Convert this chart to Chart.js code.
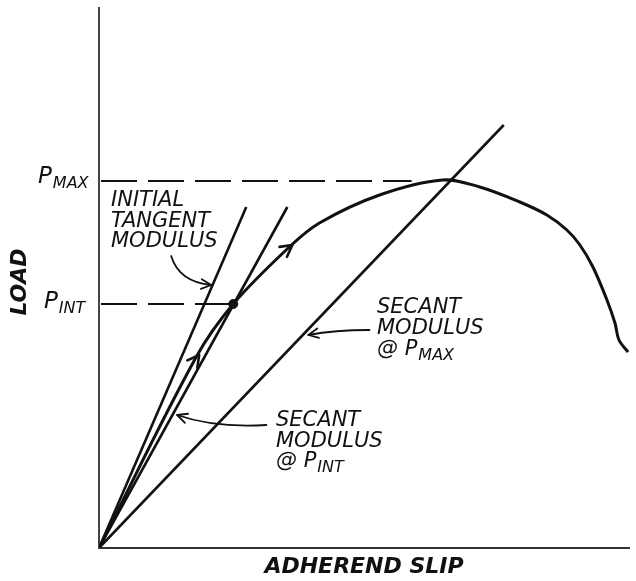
<!DOCTYPE html>
<html>
<head>
<meta charset="utf-8">
<script src="https://cdn.jsdelivr.net/npm/chart.js@4"></script>
<style>
  html, body { margin: 0; padding: 0; background: #fff; }
  #wrap { width: 636px; height: 581px; }
</style>
</head>
<body>
<div id="wrap"><canvas id="chart" width="636" height="581"></canvas></div>
<script>
'use strict';

// load / slip curve (schematic units)
const slip = [0, 97, 134, 190, 220, 280, 343, 380, 420, 447, 467, 480, 493, 507, 515, 519, 528];
const load = [0, 191, 244, 301, 325, 353, 368, 361, 346, 333, 318, 303, 281, 248, 225, 208, 196];

// key loads
const pMax = 367;
const pInt = 244;
const pIntSlip = 134;

// straight moduli lines (end points)
const tangentEnd = [147, 341];
const secantIntEnd = [188, 341];
const secantMaxEnd = [404, 423];

const ink = '#111';
const font = "'DejaVu Sans', Verdana, sans-serif";

const curvePts = slip.map((x, i) => ({x: x, y: load[i]}));
const line = (a, b) => [{x: a[0], y: a[1]}, {x: b[0], y: b[1]}];

/////////////////////////
//// notes & arrows /////

// quadratic pointer arrows, in data units: start, control, end
const pointers = [
  [[72, 292], [80, 266], [112, 263]],
  [[270, 218], [235, 218], [209, 213]],
  [[167, 123], [115, 120], [78, 133]]
];
// arrowheads on the curve: tip, point behind it
const curveArrows = [
  [[100, 193], [92.5, 183]],
  [[193, 303], [183, 295.5]]
];

function chevron(ctx, tx, ty, ang, len, spread) {
  ctx.beginPath();
  ctx.moveTo(tx - len * Math.cos(ang - spread), ty - len * Math.sin(ang - spread));
  ctx.lineTo(tx, ty);
  ctx.lineTo(tx - len * Math.cos(ang + spread), ty - len * Math.sin(ang + spread));
  ctx.stroke();
}

function subText(ctx, x, y, main, sub, size, subSize) {
  ctx.font = 'italic ' + size + 'px ' + font;
  ctx.fillText(main, x, y);
  const w = ctx.measureText(main).width;
  ctx.font = 'italic ' + subSize + 'px ' + font;
  ctx.fillText(sub, x + w + 1, y + 5);
}

const notesPlugin = {
  id: 'notes',
  afterDatasetsDraw(chart) {
    const ctx = chart.ctx;
    const xs = chart.scales.x, ys = chart.scales.y;
    const px = v => xs.getPixelForValue(v);
    const py = v => ys.getPixelForValue(v);
    ctx.save();
    ctx.strokeStyle = ink;
    ctx.fillStyle = ink;
    ctx.lineCap = 'round';
    ctx.lineJoin = 'round';

    // pointer arrows
    ctx.lineWidth = 1.8;
    pointers.forEach(p => {
      const s = [px(p[0][0]), py(p[0][1])];
      const c = [px(p[1][0]), py(p[1][1])];
      const e = [px(p[2][0]), py(p[2][1])];
      ctx.beginPath();
      ctx.moveTo(s[0], s[1]);
      ctx.quadraticCurveTo(c[0], c[1], e[0], e[1]);
      ctx.stroke();
      chevron(ctx, e[0], e[1], Math.atan2(e[1] - c[1], e[0] - c[0]), 11, 0.45);
    });

    // arrows along the load curve
    ctx.lineWidth = 2.6;
    curveArrows.forEach(a => {
      const t = [px(a[0][0]), py(a[0][1])];
      const b = [px(a[1][0]), py(a[1][1])];
      chevron(ctx, t[0], t[1], Math.atan2(t[1] - b[1], t[0] - b[0]), 13, 0.5);
    });

    // annotation text
    ctx.textAlign = 'left';
    ctx.textBaseline = 'alphabetic';
    ctx.font = 'italic 21px ' + font;
    ['INITIAL', 'TANGENT', 'MODULUS'].forEach((t, i) => ctx.fillText(t, 111, 206 + i * 20.5));
    ctx.font = 'italic 21px ' + font;
    ctx.fillText('SECANT', 377, 313);
    ctx.fillText('MODULUS', 377, 334);
    subText(ctx, 377, 355, '@ P', 'MAX', 21, 16);
    ctx.font = 'italic 21px ' + font;
    ctx.fillText('SECANT', 276, 426);
    ctx.fillText('MODULUS', 276, 447);
    subText(ctx, 276, 467, '@ P', 'INT', 21, 16);

    // tick labels
    subText(ctx, 38, py(pMax) + 2, 'P', 'MAX', 23, 16);
    subText(ctx, 44, py(pInt) + 4, 'P', 'INT', 23, 16);

    // axis titles
    ctx.font = 'bold italic 22px ' + font;
    ctx.textAlign = 'center';
    ctx.textBaseline = 'middle';
    ctx.fillText('ADHEREND SLIP', (chart.chartArea.left + chart.chartArea.right) / 2, 567);
    ctx.translate(20, 282);
    ctx.rotate(-Math.PI / 2);
    ctx.fillText('LOAD', 0, 0);
    ctx.restore();
  }
};

const ctx = document.getElementById('chart').getContext('2d');
const chart = new Chart(ctx, {
  type: 'scatter',
  data: {
    datasets: [
      {
        label: 'Load',
        data: curvePts,
        showLine: true,
        borderColor: ink,
        borderWidth: 3,
        pointRadius: 0,
        tension: 0.35
      },
      {
        label: 'Initial tangent modulus',
        data: line([0, 0], tangentEnd),
        showLine: true, borderColor: ink, borderWidth: 2.6, pointRadius: 0
      },
      {
        label: 'Secant modulus @ PINT',
        data: line([0, 0], secantIntEnd),
        showLine: true, borderColor: ink, borderWidth: 2.6, pointRadius: 0
      },
      {
        label: 'Secant modulus @ PMAX',
        data: line([0, 0], secantMaxEnd),
        showLine: true, borderColor: ink, borderWidth: 2.6, pointRadius: 0
      },
      {
        label: 'PMAX',
        data: line([2, pMax], [312, pMax]),
        showLine: true, borderColor: ink, borderWidth: 2, borderDash: [36, 11], pointRadius: 0
      },
      {
        label: 'PINT',
        data: line([2, pInt], [pIntSlip, pInt]),
        showLine: true, borderColor: ink, borderWidth: 2, borderDash: [36, 11], pointRadius: 0
      },
      {
        label: 'PINT point',
        data: [{x: pIntSlip, y: pInt}],
        backgroundColor: ink, borderColor: ink, pointRadius: 4.5
      }
    ]
  },
  options: {
    responsive: false,
    animation: false,
    events: [],
    layout: { padding: { left: 99, right: 7, top: 8, bottom: 33 } },
    plugins: {
      legend: { display: false },
      tooltip: { enabled: false }
    },
    scales: {
      x: {
        type: 'linear', min: 0, max: 529,
        ticks: { display: false },
        grid: { display: false, drawTicks: false },
        border: { display: true, color: '#333', width: 2 }
      },
      y: {
        type: 'linear', min: 0, max: 540,
        ticks: { display: false },
        grid: { display: false, drawTicks: false },
        border: { display: true, color: '#444', width: 2 }
      }
    }
  },
  plugins: [notesPlugin]
});
</script>
</body>
</html>
